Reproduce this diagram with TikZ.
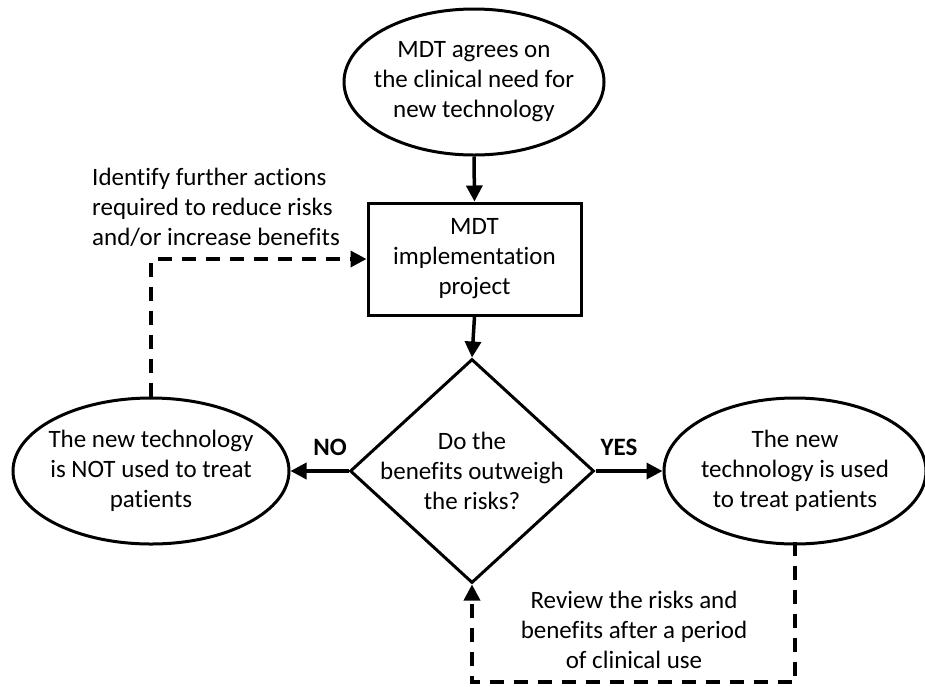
\documentclass[tikz,border=0pt]{standalone}
\usepackage{fontspec}
\setmainfont{Carlito}[Ligatures=NoCommon]
\usetikzlibrary{shapes.geometric,arrows.meta}
\begin{document}
\begin{tikzpicture}[x=1pt,y=-1pt,
  every node/.style={font=\fontsize{25}{30}\selectfont},
  ln/.style={line width=3pt},
  oval/.style={ln,draw,ellipse,inner sep=0pt},
  txt/.style={align=center,inner sep=0pt},
  box/.style={ln,draw,rectangle,inner sep=0pt,align=center},
  arr/.style={line width=3.5pt,-{Triangle[length=16pt,width=16pt]}},
  dsh/.style={line width=3.5pt,dash pattern=on 14pt off 10pt,-{Triangle[length=16pt,width=16pt]}},
  lbl/.style={font=\fontsize{25}{30}\selectfont\bfseries}
]
\useasboundingbox (0,0) rectangle (925,686);
\node[oval,minimum width=260pt,minimum height=146pt] (top) at (474,82) {};
\node[txt] (toptext) at (top.center) {MDT agrees on\\the clinical need for\\new technology};
\node[box,minimum width=213pt,minimum height=112pt] (proj) at (474.5,259)
  {MDT\\implementation\\project};
\node[ln,draw,diamond,minimum width=244pt,minimum height=224pt,inner sep=0pt] (dia) at (472,471) {};
\node[txt] (dtext) at (dia.center) {Do the\\benefits outweigh\\the risks?};
\node[oval,minimum width=276pt,minimum height=146pt] (no) at (151,471) {};
\node[txt] (notext) at (no.center) {The new technology\\is NOT used to treat\\patients};
\node[oval,minimum width=262pt,minimum height=146pt] (yes) at (795,471) {};
\node[txt] (yestext) at (yes.center) {The new\\technology is used\\to treat patients};
\node[align=left,anchor=west,inner sep=0pt] (ident) at (92,207)
  {Identify further actions\\required to reduce risks\\and/or increase benefits};
\node[txt] (review) at (634,630)
  {Review the risks and\\benefits after a period\\of clinical use};
\node[lbl] (nolbl) at (330,447) {NO};
\node[lbl] (yeslbl) at (619,447) {YES};
\coordinate (rb) at (795,682);
\draw[arr] (top.south) -- (proj.north);
\draw[arr] (proj.south) -- (dia.north);
\draw[arr] (dia.west) -- (no.east);
\draw[arr] (dia.east) -- (yes.west);
\draw[dsh] (no.north) |- (proj.west);
\draw[dsh] ([yshift=4pt]yes.south) -- (rb) -| (dia.south);
\end{tikzpicture}
\end{document}
